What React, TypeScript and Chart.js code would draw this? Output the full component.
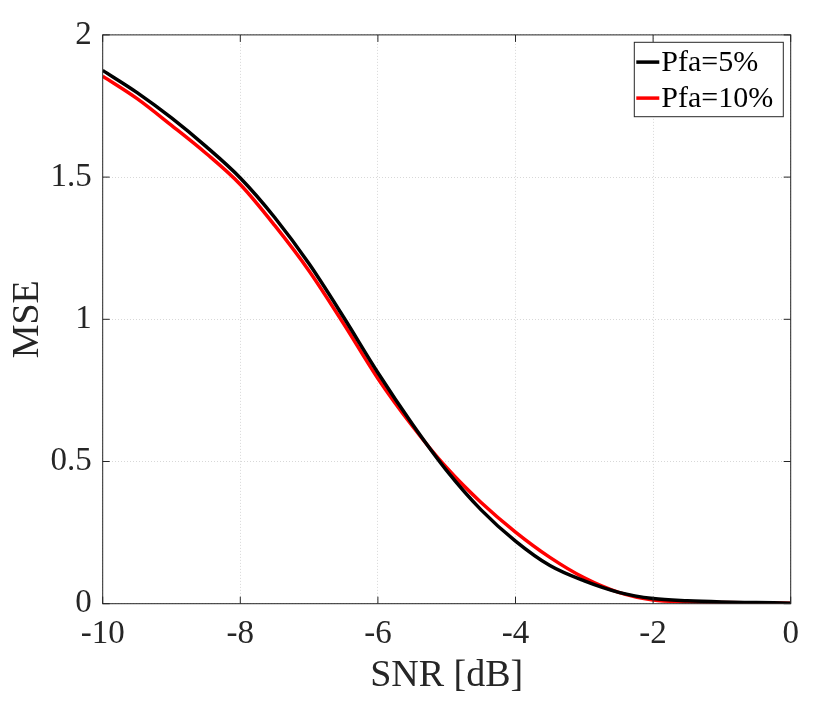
import React, { useEffect, useRef } from 'react';
import Chart from 'chart.js/auto';

const snrDb = [-10, -9.5, -9, -8.5, -8, -7.5, -7, -6.5, -6, -5.5, -5, -4.5, -4, -3.5, -3, -2.5, -2, -1.5, -1, -0.5, 0];
const msePfa5 = [1.875, 1.797, 1.708, 1.608, 1.497, 1.358, 1.195, 1.008, 0.812, 0.632, 0.468, 0.33, 0.22, 0.134, 0.08, 0.04, 0.018, 0.01, 0.006, 0.004, 0.002];
const msePfa10 = [1.855, 1.776, 1.682, 1.584, 1.474, 1.33, 1.17, 0.985, 0.792, 0.625, 0.478, 0.356, 0.252, 0.163, 0.091, 0.04, 0.013, 0.007, 0.004, 0.003, 0.002];
const seriesLabels = ['Pfa=5%', 'Pfa=10%'];
const xTicks = [-10, -8, -6, -4, -2, 0];
const yTicks = [0, 0.5, 1, 1.5, 2];

const AXIS = '#262626';
const SERIF = '"Liberation Serif", "Times New Roman", serif';

// box round the axes plus inward ticks on all four sides, like MATLAB
const boxPlugin = {
    id: 'matlabBox',
    afterDatasetsDraw(chart: any) {
        const { ctx, chartArea: a, scales } = chart;
        ctx.save();
        ctx.strokeStyle = AXIS;
        ctx.lineWidth = 1;
        ctx.strokeRect(a.left, a.top, a.right - a.left, a.bottom - a.top);
        ctx.beginPath();
        xTicks.forEach((v) => {
            const px = scales.x.getPixelForValue(v);
            ctx.moveTo(px, a.bottom);
            ctx.lineTo(px, a.bottom - 7);
            ctx.moveTo(px, a.top);
            ctx.lineTo(px, a.top + 7);
        });
        yTicks.forEach((v) => {
            const py = scales.y.getPixelForValue(v);
            ctx.moveTo(a.left, py);
            ctx.lineTo(a.left + 7, py);
            ctx.moveTo(a.right, py);
            ctx.lineTo(a.right - 7, py);
        });
        ctx.stroke();

        // legend box, top right inside the axes
        const lx = a.right - 156.4;
        const ly = a.top + 7.4;
        ctx.fillStyle = '#fff';
        ctx.fillRect(lx, ly, 149, 74.4);
        ctx.strokeRect(lx, ly, 149, 74.4);
        ctx.font = `30px ${SERIF}`;
        ctx.textBaseline = 'middle';
        ctx.textAlign = 'left';
        chart.data.datasets.forEach((ds: any, i: number) => {
            const rowY = ly + 19.8 + i * 36;
            ctx.strokeStyle = ds.borderColor;
            ctx.lineWidth = 3.5;
            ctx.beginPath();
            ctx.moveTo(lx + 2, rowY);
            ctx.lineTo(lx + 25, rowY);
            ctx.stroke();
            ctx.fillStyle = '#000';
            ctx.fillText(ds.label, lx + 27, rowY + 1);
        });
        ctx.restore();
    },
};

export default function App() {
    const chartRef = useRef<HTMLCanvasElement>(null);

    useEffect(() => {
        if (!chartRef.current) return;
        const tickFont = { family: SERIF, size: 33 };
        const titleFont = { family: SERIF, size: 38 };
        const gridOpts = { color: 'rgba(38,38,38,0.18)', lineWidth: 1, drawTicks: false };
        const chart = new Chart(chartRef.current, {
            type: 'line',
            data: {
                datasets: [
                    {
                        label: seriesLabels[0],
                        data: snrDb.map((x, i) => ({ x, y: msePfa5[i] })),
                        borderColor: '#000000',
                        borderWidth: 3.5,
                        pointRadius: 0,
                        cubicInterpolationMode: 'monotone',
                    },
                    {
                        label: seriesLabels[1],
                        data: snrDb.map((x, i) => ({ x, y: msePfa10[i] })),
                        borderColor: '#ff0000',
                        borderWidth: 3.5,
                        pointRadius: 0,
                        cubicInterpolationMode: 'monotone',
                    },
                ],
            },
            options: {
                animation: false,
                responsive: true,
                maintainAspectRatio: false,
                layout: { padding: { left: 0, top: 34.9, right: 39.3, bottom: 24.2 } },
                plugins: { legend: { display: false }, tooltip: { enabled: false } },
                scales: {
                    x: {
                        type: 'linear',
                        min: -10,
                        max: 0,
                        afterBuildTicks: (s: any) => {
                            s.ticks = xTicks.map((value) => ({ value }));
                        },
                        afterFit: (s: any) => {
                            s.height = 95.1;
                        },
                        grid: gridOpts,
                        border: { display: false, dash: [1, 2] },
                        ticks: { font: tickFont, color: AXIS, padding: 11, maxRotation: 0, callback: (v: any) => String(v) },
                        title: { display: true, text: 'SNR [dB]', font: titleFont, color: AXIS, padding: { top: 0, bottom: 0 } },
                    },
                    y: {
                        type: 'linear',
                        min: 0,
                        max: 2,
                        afterBuildTicks: (s: any) => {
                            s.ticks = yTicks.map((value) => ({ value }));
                        },
                        afterFit: (s: any) => {
                            s.width = 102.7;
                        },
                        grid: gridOpts,
                        border: { display: false, dash: [1, 2] },
                        ticks: { font: tickFont, color: AXIS, padding: 11, callback: (v: any) => String(v) },
                        title: { display: true, text: 'MSE', font: titleFont, color: AXIS, padding: { top: 5.5, bottom: 0 } },
                    },
                },
            },
            plugins: [boxPlugin],
        });
        return () => chart.destroy();
    }, []);

    return (
        <div style={{ position: 'fixed', left: 0, top: 0, width: 830, height: 723, background: '#fff' }}>
            <canvas ref={chartRef} />
        </div>
    );
}
